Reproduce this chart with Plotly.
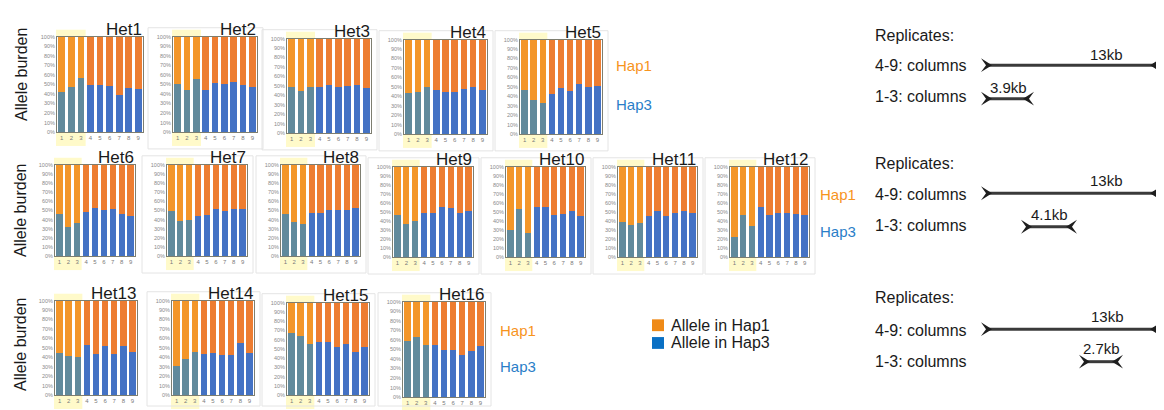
import plotly.graph_objects as go

# page is 1164x410; the browser places the figure 8px in from the top-left
PAGE_W, PAGE_H = 1164, 410
OFF = 8
W, H = PAGE_W - OFF, PAGE_H - OFF

# ---------------- data ----------------
columns = [1, 2, 3, 4, 5, 6, 7, 8, 9]
x_tick_labels = ["1", "2", "3", "4", "5", "6", "7", "8", "9"]
y_ticks = [0, 10, 20, 30, 40, 50, 60, 70, 80, 90, 100]
y_tick_labels = ["0%", "10%", "20%", "30%", "40%", "50%", "60%", "70%", "80%", "90%", "100%"]

panel_names = ["Het1", "Het2", "Het3", "Het4", "Het5", "Het6", "Het7", "Het8",
               "Het9", "Het10", "Het11", "Het12", "Het13", "Het14", "Het15", "Het16"]

# Allele in Hap3 (%), bottom of each stacked bar; Hap1 is the remainder to 100 %
het1_hap3 = [42, 47, 57, 49, 49, 48, 39, 46, 45]
het2_hap3 = [50, 44, 56, 44, 51, 50, 52, 49, 47]
het3_hap3 = [49, 45, 49, 49, 51, 49, 50, 51, 48]
het4_hap3 = [44, 45, 50, 47, 45, 45, 48, 50, 47]
het5_hap3 = [47, 36, 33, 42, 49, 46, 53, 50, 51]
het6_hap3 = [46, 32, 36, 48, 53, 51, 52, 46, 44]
het7_hap3 = [49, 39, 40, 44, 45, 52, 49, 52, 52]
het8_hap3 = [46, 37, 35, 47, 47, 51, 51, 51, 53]
het9_hap3 = [47, 37, 40, 49, 49, 55, 54, 49, 51]
het10_hap3 = [30, 53, 27, 55, 55, 47, 48, 51, 46]
het11_hap3 = [39, 36, 38, 45, 51, 46, 49, 51, 49]
het12_hap3 = [22, 47, 34, 56, 47, 49, 49, 48, 47]
het13_hap3 = [45, 41, 40, 53, 44, 52, 44, 52, 46]
het14_hap3 = [31, 38, 46, 44, 45, 43, 42, 55, 45]
het15_hap3 = [67, 64, 55, 57, 57, 52, 55, 47, 52]
het16_hap3 = [59, 63, 55, 55, 49, 49, 44, 48, 54]

hap3_series = [het1_hap3, het2_hap3, het3_hap3, het4_hap3, het5_hap3, het6_hap3,
               het7_hap3, het8_hap3, het9_hap3, het10_hap3, het11_hap3, het12_hap3,
               het13_hap3, het14_hap3, het15_hap3, het16_hap3]

# ---------------- layout helpers (page pixels -> paper fraction) ----------------
def px(x):
    return (x - OFF) / W


def py(y):
    return 1 - (y - OFF) / H


# plot-box pixel boxes on the page: (left, right, top, bottom)
boxes = [
    (57, 143, 34, 131), (173, 257, 34, 131), (287, 371, 36, 132), (404, 487, 37, 133), (520, 602, 37, 133),
    (55, 135, 164, 257), (167, 247, 164, 257), (281, 360, 164, 257), (393, 473, 166, 258),
    (506, 585, 166, 258), (618, 697, 166, 258), (730, 809, 166, 258),
    (55, 137, 302, 398), (172, 254, 302, 398), (287, 369, 304, 398), (403, 485, 303, 400),
]
row_first = {0, 5, 12}

BLUE, ORANGE = "#4472c4", "#ed7d31"
BLUE_HL, ORANGE_HL = "#618a9c", "#f39629"
YELLOW = "#fffaca"
FRAME = "#7e7e70"
TXT = "#1a1a1a"

blue_cols = [BLUE_HL if c <= 3 else BLUE for c in columns]
orange_cols = [ORANGE_HL if c <= 3 else ORANGE for c in columns]

fig = go.Figure()
axes = {}
shapes = []
annotations = []

for i, (name, hap3, (x0, x1, yt, yb)) in enumerate(zip(panel_names, hap3_series, boxes)):
    k = i + 1
    xa = "x" if k == 1 else f"x{k}"
    ya = "y" if k == 1 else f"y{k}"
    hap1 = [100 - v for v in hap3]
    fig.add_bar(x=columns, y=hap3, marker=dict(color=blue_cols, line=dict(width=0)),
                xaxis=xa, yaxis=ya, showlegend=False, name="Allele in Hap3")
    fig.add_bar(x=columns, y=hap1, marker=dict(color=orange_cols, line=dict(width=0)),
                xaxis=xa, yaxis=ya, showlegend=False, name="Allele in Hap1")
    sx = "" if k == 1 else str(k)
    axes["xaxis" + sx] = dict(
        domain=[px(x0), px(x1)], anchor=ya, range=[0.5, 9.5],
        tickvals=columns, ticktext=x_tick_labels,
        tickfont=dict(size=6, color="#7a7a7a", family="Liberation Sans"),
        showline=True, mirror=True, linecolor=FRAME, linewidth=1,
        showgrid=False, zeroline=False, ticks="", fixedrange=True)
    axes["yaxis" + sx] = dict(
        domain=[py(yb), py(yt)], anchor=xa, range=[0, 100],
        tickvals=y_ticks, ticktext=y_tick_labels,
        tickfont=dict(size=5.5, color="#8a8a8a", family="Liberation Sans"),
        showline=True, mirror=True, linecolor=FRAME, linewidth=1,
        showgrid=False, zeroline=False, ticks="", fixedrange=True)

    # yellow highlight of replicate columns 1-3 (above and below the box)
    hl_r = x0 + (x1 - x0) / 3.0
    shapes.append(dict(type="rect", xref="paper", yref="paper", layer="below",
                       x0=px(x0 - 1), x1=px(hl_r), y0=py(yt), y1=py(yt - 7),
                       fillcolor=YELLOW, line=dict(width=0)))
    shapes.append(dict(type="rect", xref="paper", yref="paper", layer="below",
                       x0=px(x0 - 1), x1=px(hl_r), y0=py(yb + 14), y1=py(yb),
                       fillcolor=YELLOW, line=dict(width=0)))
    # faint chart-area frame
    if i not in row_first:
        shapes.append(dict(type="rect", xref="paper", yref="paper", layer="below",
                           x0=px(x0 - 25), x1=px(x1 + 6), y0=py(min(yb + 17, 409)), y1=py(yt - 9),
                           fillcolor="rgba(0,0,0,0)", line=dict(width=1, color="#e4e4e4")))
    # panel title
    annotations.append(dict(text=name, xref="paper", yref="paper", x=px(x1 + 1), y=py(yt),
                            xanchor="right", yanchor="bottom", yshift=-4, showarrow=False,
                            font=dict(size=17, color=TXT, family="Liberation Sans")))

# row labels
for yc in [73, 211, 347]:
    annotations.append(dict(text="Allele burden", xref="paper", yref="paper", x=px(21), y=py(yc),
                            xanchor="center", yanchor="middle", textangle=-90, showarrow=False,
                            font=dict(size=16, color=TXT, family="Liberation Sans")))

# Hap1 / Hap3 side labels
for (hx, y1_, y3_) in [(614, 63, 103), (818, 194, 232), (498, 332, 369)]:
    annotations.append(dict(text="Hap1", xref="paper", yref="paper", x=px(hx), y=py(y1_),
                            xanchor="left", yanchor="middle", showarrow=False,
                            font=dict(size=15, color="#f7941d", family="Liberation Sans")))
    annotations.append(dict(text="Hap3", xref="paper", yref="paper", x=px(hx), y=py(y3_),
                            xanchor="left", yanchor="middle", showarrow=False,
                            font=dict(size=15, color="#2a7ec8", family="Liberation Sans")))

# legend (drawn)
for (ly, col, lab) in [(327, "#ef8a17", "Allele in Hap1"), (345, "#0a70c4", "Allele in Hap3")]:
    shapes.append(dict(type="rect", xref="paper", yref="paper", x0=px(652), x1=px(664),
                       y0=py(ly + 6), y1=py(ly - 6), fillcolor=col, line=dict(width=0)))
    annotations.append(dict(text=lab, xref="paper", yref="paper", x=px(669), y=py(ly),
                            xanchor="left", yanchor="middle", showarrow=False,
                            font=dict(size=16, color=TXT, family="Liberation Sans")))

# replicate scale bars
ARROW = "#3a3a3a"


def scale_bar(xl, xr, y):
    shapes.append(dict(type="line", xref="paper", yref="paper", x0=px(xl + 4), x1=px(xr - 4),
                       y0=py(y), y1=py(y), line=dict(color=ARROW, width=3)))
    left = (f"M {px(xl - 2)},{py(y - 7)} L {px(xl + 9)},{py(y)} L {px(xl - 2)},{py(y + 7)} "
            f"L {px(xl + 3)},{py(y)} Z")
    right = (f"M {px(xr + 2)},{py(y - 7)} L {px(xr - 9)},{py(y)} L {px(xr + 2)},{py(y + 7)} "
             f"L {px(xr - 3)},{py(y)} Z")
    for p in (left, right):
        shapes.append(dict(type="path", xref="paper", yref="paper", path=p,
                           fillcolor="#1e1e1e", line=dict(width=0)))


blocks = [
    # rep_y, y49, y13, long(xl,xr,y), 13kb(x,y), short(xl,xr,y), label, (x,y)
    (33, 63, 95, (983, 1159, 63), (1106, 52), (983, 1032, 97), "3.9kb", (1008, 86)),
    (163, 194, 226, (983, 1159, 193), (1106, 180), (1023, 1075, 227), "4.1kb", (1049, 215)),
    (299, 332, 364, (983, 1159, 331), (1107, 318), (1081, 1121, 364), "2.7kb", (1101, 351)),
]
for (ry, y49, y13, lng, l13, sht, slab, spos) in blocks:
    for (t, yy) in [("Replicates:", ry), ("4-9: columns", y49), ("1-3: columns", y13)]:
        annotations.append(dict(text=t, xref="paper", yref="paper", x=px(873), y=py(yy),
                                xanchor="left", yanchor="middle", showarrow=False,
                                font=dict(size=16, color=TXT, family="Liberation Sans")))
    scale_bar(*lng)
    scale_bar(*sht)
    annotations.append(dict(text="13kb", xref="paper", yref="paper", x=px(l13[0]), y=py(l13[1]),
                            xanchor="center", yanchor="middle", showarrow=False,
                            font=dict(size=15, color=TXT, family="Liberation Sans")))
    annotations.append(dict(text=slab, xref="paper", yref="paper", x=px(spos[0]), y=py(spos[1]),
                            xanchor="center", yanchor="middle", showarrow=False,
                            font=dict(size=15, color=TXT, family="Liberation Sans")))

fig.update_layout(
    width=W, height=H, autosize=False,
    margin=dict(l=0, r=0, t=0, b=0),
    paper_bgcolor="white", plot_bgcolor="white",
    barmode="stack", bargap=0.29,
    showlegend=False,
    shapes=shapes, annotations=annotations,
    font=dict(family="Liberation Sans"),
    **axes,
)

fig.write_html("out.html")
